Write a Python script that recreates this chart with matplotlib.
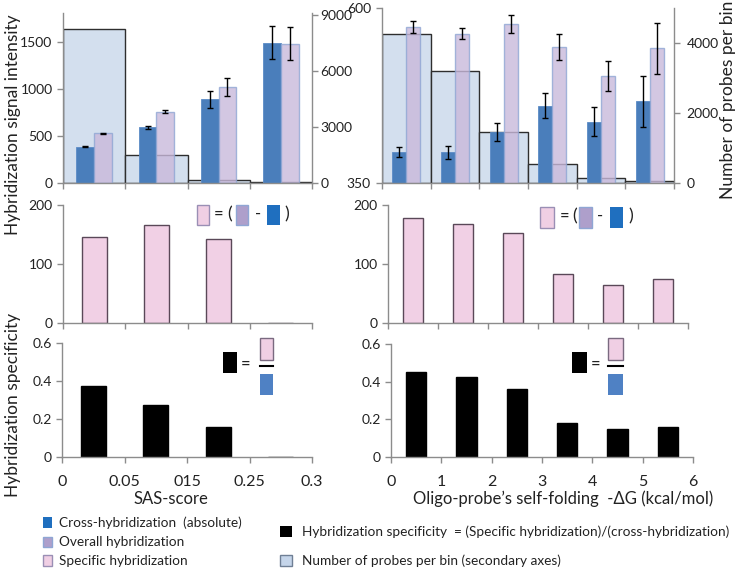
import matplotlib
matplotlib.use("Agg")
import matplotlib.pyplot as plt
from matplotlib.patches import Rectangle
from matplotlib.lines import Line2D
import numpy as np

plt.rcParams['font.family'] = ['Lato', 'DejaVu Sans']

# ---------------- data ----------------
sas_labels = ['0', '0.05', '015', '0.25', '0.3']
sas_cross = [388, 593, 889, 1493]
sas_cross_err = [5, 18, 92, 176]
sas_overall = [529, 759, 1024, 1482]
sas_overall_err = [5, 18, 95, 176]
sas_probes = [8250, 1515, 178, 71]
sas_specific = [146.5, 165.6, 142, 0.6]
sas_ratio = [0.376, 0.275, 0.159, 0.002]

dg_labels = ['0', '1', '2', '3', '4', '5', '6']
dg_cross = [394.3, 393.8, 422.9, 460.5, 437.6, 466.7]
dg_cross_err = [7.6, 8.8, 13, 18, 20.5, 36]
dg_overall = [572.9, 563.3, 577.0, 544.3, 502.9, 542.4]
dg_overall_err = [8, 8.3, 12.4, 18.6, 21, 36]
dg_probes = [4265, 3204, 1450, 531, 142, 47]
dg_specific = [178, 168.5, 153.2, 83.4, 64.2, 74.4]
dg_ratio = [0.449, 0.424, 0.360, 0.179, 0.147, 0.158]

# ---------------- styles ----------------
W, H = 736, 570
C_CROSS = '#4A7EBB'
C_OVER = '#C9B9DB'
C_OVER_EDGE = '#8FA6D4'
C_SPEC = '#F1D0E5'
C_SPEC_EDGE = '#5A4858'
C_PROBE = '#D3DFEE'
C_PROBE_EDGE = '#2E2E2E'
SPINE = '#8C8C8C'
TXT = '#222222'
FS = 10

fig = plt.figure(figsize=(W / 100, H / 100), dpi=100)


def px_axes(x0, y0, x1, y1):
    return fig.add_axes([x0 / W, 1 - y1 / H, (x1 - x0) / W, (y1 - y0) / H])


def style(ax, left=True, right=False):
    ax.spines['top'].set_visible(False)
    ax.spines['right'].set_visible(right)
    ax.spines['left'].set_visible(left)
    for s in ['left', 'right', 'bottom']:
        ax.spines[s].set_color(SPINE)
        ax.spines[s].set_linewidth(1)
    ax.tick_params(axis='both', direction='out', length=4, color=SPINE,
                   labelsize=FS, labelcolor=TXT, width=1)
    ax.patch.set_visible(False)


def top_panel(rect, cross, cerr, over, oerr, probes, ylim, yticks, ylim2, yticks2, n,
              lpad=3.5, rpad=3.5):
    ax = px_axes(*rect)
    ax2 = ax.twinx()
    ax.set_zorder(ax2.get_zorder() + 1)
    ax.patch.set_visible(False)
    x = np.arange(n)
    ax2.bar(x + 0.5, probes, width=1.0, color=C_PROBE, edgecolor=C_PROBE_EDGE, linewidth=1)
    w = 0.285
    ax.bar(x + 0.5 - w / 2, cross, width=w, color=C_CROSS, edgecolor='#5B8BC6', linewidth=0.6,
           yerr=cerr, error_kw=dict(ecolor='black', elinewidth=1, capsize=2.5, capthick=1))
    ax.bar(x + 0.5 + w / 2, over, width=w, color=C_OVER, alpha=0.8, edgecolor=C_OVER_EDGE, linewidth=1,
           yerr=oerr, error_kw=dict(ecolor='black', elinewidth=1, capsize=2.5, capthick=1))
    ax.set_xlim(0, n)
    ax.set_ylim(*ylim)
    ax.set_yticks(yticks)
    ax2.set_ylim(*ylim2)
    ax2.set_yticks(yticks2)
    ax.set_xticks(np.arange(n + 1))
    ax.set_xticklabels([])
    style(ax, left=True, right=False)
    style(ax2, left=False, right=True)
    ax.tick_params(axis='y', pad=lpad)
    ax2.tick_params(axis='y', pad=rpad)
    ax2.spines['bottom'].set_visible(False)
    ax2.tick_params(axis='x', bottom=False, labelbottom=False)
    return ax, ax2


def single_panel(rect, vals, n, ylim, yticks, color, edge, labels=None):
    ax = px_axes(*rect)
    x = np.arange(n)
    ax.bar(x + 0.5, vals, width=0.4, color=color, edgecolor=edge, linewidth=1)
    ax.set_xlim(0, n)
    ax.set_ylim(*ylim)
    ax.set_yticks(yticks)
    ax.set_yticklabels([('%g' % t) for t in yticks])
    ax.set_xticks(np.arange(n + 1))
    style(ax)
    if labels is None:
        ax.set_xticklabels([])
    else:
        ax.set_xticklabels(labels)
        ax.tick_params(axis='x', labelsize=11.5, pad=9)
    return ax


# top panels
top_panel((63, 13, 312, 183), sas_cross, sas_cross_err, sas_overall, sas_overall_err, sas_probes,
          (0, 1808), [0, 500, 1000, 1500], (0, 9100), [0, 3000, 6000, 9000], 4, rpad=2)
top_panel((382, 8, 674, 183), dg_cross, dg_cross_err, dg_overall, dg_overall_err, dg_probes,
          (350, 600), [350, 600], (0, 5000), [0, 2000, 4000], 6, lpad=4, rpad=5)

# middle panels
single_panel((63, 205, 312, 323), sas_specific, 4, (0, 200), [0, 100, 200], C_SPEC, C_SPEC_EDGE)
single_panel((388, 205, 688, 323), dg_specific, 6, (0, 200), [0, 100, 200], C_SPEC, C_SPEC_EDGE)

# bottom panels
single_panel((62, 343, 312, 457), sas_ratio, 4, (0, 0.6), [0, 0.2, 0.4, 0.6], 'black', 'black', sas_labels)
single_panel((391, 344, 693, 457), dg_ratio, 6, (0, 0.6), [0, 0.2, 0.4, 0.6], 'black', 'black', dg_labels)


# ---------------- annotations ----------------
def rect_px(x0, y0, x1, y1, fc, ec='none', lw=1):
    fig.add_artist(Rectangle((x0 / W, 1 - y1 / H), (x1 - x0) / W, (y1 - y0) / H,
                             transform=fig.transFigure, facecolor=fc, edgecolor=ec, linewidth=lw))


def text_px(x, y, s, size=FS, ha='center', va='center', rot=0, **kw):
    fig.text(x / W, 1 - y / H, s, fontsize=size, ha=ha, va=va, rotation=rot, color=TXT, **kw)


ICON_BLUE = '#1F6FBF'
ICON_PURPLE = '#AE9FCB'
ICON_PINK = '#F0CFE4'
ICON_BLUE2 = '#4F81C4'

# middle-left formula
rect_px(197, 205, 209, 225, ICON_PINK, '#9A8FB5')
text_px(219, 214, '=', 12)
text_px(230, 214, '(', 13)
rect_px(236, 205, 248, 225, ICON_PURPLE, '#8FA6D4')
text_px(258, 214, '-', 12)
rect_px(267, 205, 280, 225, ICON_BLUE)
text_px(287, 214, ')', 13)

# middle-right formula
rect_px(540, 207, 554, 228, ICON_PINK, '#9A8FB5')
text_px(565, 216, '=', 12)
text_px(575, 216, '(', 13)
rect_px(579, 207, 592, 228, ICON_PURPLE, '#8FA6D4')
text_px(600, 216, '-', 12)
rect_px(610, 207, 623, 228, ICON_BLUE)
text_px(631, 216, ')', 13)

# bottom-left ratio icon
rect_px(223, 352, 237, 373, 'black')
text_px(246, 364, '=', 12)
rect_px(260, 338, 273, 360, ICON_PINK, '#7A6A80')
fig.add_artist(Line2D([260 / W, 273 / W], [1 - 366 / H, 1 - 366 / H], color='black', linewidth=1.5,
                      transform=fig.transFigure))
rect_px(260, 374, 273, 395, ICON_BLUE2)

# bottom-right ratio icon
rect_px(572, 352, 587, 373, 'black')
text_px(596, 364, '=', 12)
rect_px(608, 338, 623, 360, ICON_PINK, '#7A6A80')
fig.add_artist(Line2D([608 / W, 623 / W], [1 - 366 / H, 1 - 366 / H], color='black', linewidth=1.5,
                      transform=fig.transFigure))
rect_px(608, 374, 623, 395, ICON_BLUE2)

# axis titles
text_px(13, 125, 'Hybridization signal intensity', 12.5, rot=90)
text_px(13, 405, 'Hybridization specificity', 12.5, rot=90)
text_px(728, 100, 'Number of probes per bin', 12.5, rot=90)
text_px(171, 499, 'SAS-score', 12)
text_px(563, 499, 'Oligo-probe\u2019s self-folding  -\u0394G (kcal/mol)', 12)

# legend
LFS = 9.8
rect_px(43, 517, 52, 528, ICON_BLUE)
text_px(59, 523, 'Cross-hybridization  (absolute)', LFS, ha='left')
rect_px(43, 537, 52, 547, ICON_PURPLE, '#8FA6D4')
text_px(59, 542, 'Overall hybridization', LFS, ha='left')
rect_px(43, 555, 52, 566, ICON_PINK, '#9A8FB5')
text_px(59, 561, 'Specific hybridization', LFS, ha='left')
rect_px(280, 526, 292, 537, 'black')
text_px(302, 532, 'Hybridization specificity  = (Specific hybridization)/(cross-hybridization)', LFS, ha='left')
rect_px(280, 555, 292, 566, '#C5D5EA', '#6F7F95')
text_px(302, 561, 'Number of probes per bin (secondary axes)', LFS, ha='left')

fig.savefig('out.png', dpi=100)
